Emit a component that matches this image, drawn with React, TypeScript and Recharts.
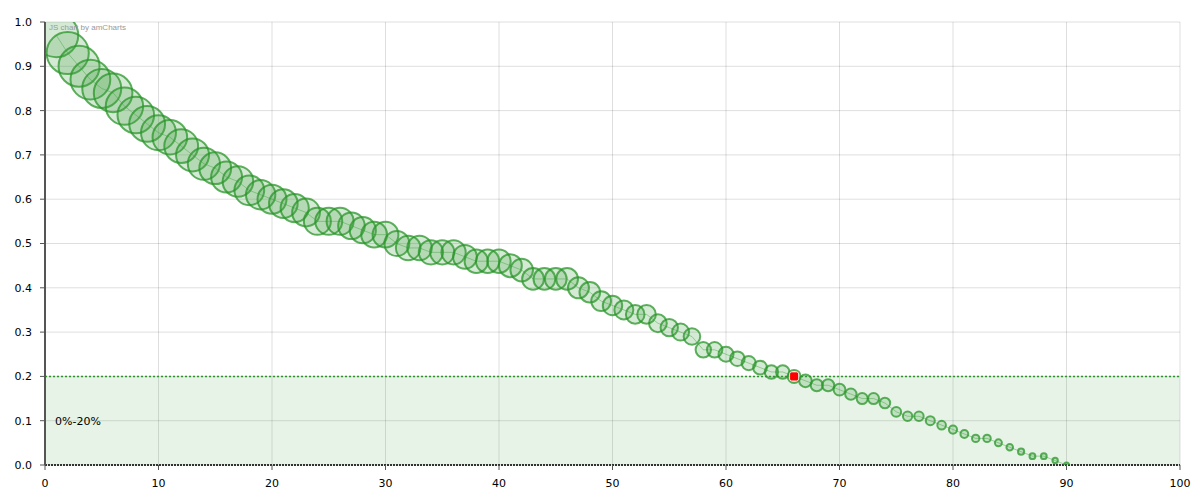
import React from 'react';
import {
  ScatterChart, Scatter, XAxis, YAxis, ZAxis, CartesianGrid,
  ReferenceArea, ReferenceLine,
} from 'recharts';

// x positions of the bubbles (1..90)
const xValues = [
  1, 2, 3, 4, 5, 6, 7, 8, 9, 10, 11, 12, 13, 14, 15, 16, 17, 18, 19, 20,
  21, 22, 23, 24, 25, 26, 27, 28, 29, 30, 31, 32, 33, 34, 35, 36, 37, 38, 39, 40,
  41, 42, 43, 44, 45, 46, 47, 48, 49, 50, 51, 52, 53, 54, 55, 56, 57, 58, 59, 60,
  61, 62, 63, 64, 65, 66, 67, 68, 69, 70, 71, 72, 73, 74, 75, 76, 77, 78, 79, 80,
  81, 82, 83, 84, 85, 86, 87, 88, 89, 90,
];

// y values
const yValues = [
  0.97, 0.93, 0.90, 0.87, 0.85, 0.84, 0.81, 0.79, 0.77, 0.75,
  0.74, 0.72, 0.70, 0.68, 0.67, 0.65, 0.64, 0.62, 0.61, 0.60,
  0.59, 0.58, 0.57, 0.55, 0.55, 0.55, 0.54, 0.53, 0.52, 0.52,
  0.50, 0.49, 0.49, 0.48, 0.48, 0.48, 0.47, 0.46, 0.46, 0.46,
  0.45, 0.44, 0.42, 0.42, 0.42, 0.42, 0.40, 0.39, 0.37, 0.36,
  0.35, 0.34, 0.34, 0.32, 0.31, 0.30, 0.29, 0.26, 0.26, 0.25,
  0.24, 0.23, 0.22, 0.21, 0.21, 0.20, 0.19, 0.18, 0.18, 0.17,
  0.16, 0.15, 0.15, 0.14, 0.12, 0.11, 0.11, 0.10, 0.09, 0.08,
  0.07, 0.06, 0.06, 0.05, 0.04, 0.03, 0.02, 0.02, 0.01, 0.00,
];

// bubble value (same as y in the source chart)
const bubbleValues = yValues;

const highlightX = [66];

const xTicks = [0, 10, 20, 30, 40, 50, 60, 70, 80, 90, 100];
const yTicks = [0, 0.1, 0.2, 0.3, 0.4, 0.5, 0.6, 0.7, 0.8, 0.9, 1.0];

const guideFrom = 0;
const guideTo = 0.2;
const guideLabel = '0%-20%';

const GREEN = '#2a962a';
const FONT = '"DejaVu Sans", Verdana, sans-serif';

const points = xValues.map((x, i) => ({ x, y: yValues[i], z: bubbleValues[i] }));
const highlighted = points.filter((p) => highlightX.includes(p.x));

const Bubble = (props: any) => {
  const { cx, cy, size } = props;
  if (cx == null || cy == null) return null;
  const r = size ?? 3;
  return (
    <circle
      cx={cx}
      cy={cy}
      r={r}
      fill="#3fa03f"
      fillOpacity={0.22}
      stroke={GREEN}
      strokeOpacity={0.75}
      strokeWidth={2}
    />
  );
};

const RedDot = (props: any) => {
  const { cx, cy } = props;
  if (cx == null || cy == null) return null;
  return (
    <rect
      x={cx - 4.5}
      y={cy - 4.5}
      width={9}
      height={9}
      rx={2}
      fill="#ff0000"
      stroke="#fff"
      strokeOpacity={0.8}
      strokeWidth={1}
    />
  );
};

const tickStyle = { fill: '#000', fontSize: 11, fontFamily: FONT };

export default function App() {
  return (
    <div style={{ position: 'absolute', left: 0, top: 0, width: 1200, height: 500, background: '#fff' }}>
      <ScatterChart
        width={1200}
        height={500}
        margin={{ top: 22, right: 20, bottom: 5, left: 0 }}
        style={{ fontFamily: FONT }}
      >
        <ReferenceArea
          y1={guideFrom}
          y2={guideTo}
          fill="#2e9a2e"
          fillOpacity={0.12}
          stroke="none"
          label={{ value: guideLabel, position: 'insideLeft', offset: 10, fill: '#000', fontSize: 11, fontFamily: FONT }}
        />
        <CartesianGrid stroke="#000" strokeOpacity={0.13} />
        <XAxis
          type="number"
          dataKey="x"
          domain={[0, 100]}
          allowDataOverflow
          ticks={xTicks}
          interval={0}
          height={30}
          tickSize={5}
          tickMargin={9}
          tick={tickStyle}
          axisLine={{ stroke: '#333', strokeWidth: 2, strokeDasharray: '2 1' }}
          tickLine={{ stroke: '#555' }}
        />
        <YAxis
          type="number"
          dataKey="y"
          domain={[0, 1]}
          allowDataOverflow
          ticks={yTicks}
          interval={0}
          width={45}
          tickSize={5}
          tickMargin={8}
          tick={tickStyle}
          tickFormatter={(v: number) => v.toFixed(1)}
          axisLine={{ stroke: '#555', strokeWidth: 2 }}
          tickLine={{ stroke: '#555' }}
        />
        <ZAxis type="number" dataKey="z" domain={[0, 1]} range={[2.5, 22.5]} />
        <ReferenceLine y={guideTo} stroke={GREEN} strokeWidth={1.5} strokeDasharray="2 2" />
        <Scatter
          data={points}
          shape={<Bubble />}
          line={{ stroke: GREEN, strokeOpacity: 0.4, strokeWidth: 1 }}
          lineType="joint"
          isAnimationActive={false}
        />
        <Scatter data={highlighted} shape={<RedDot />} isAnimationActive={false} />
      </ScatterChart>
      <div
        style={{
          position: 'absolute',
          left: 49,
          top: 23,
          fontSize: 8,
          color: '#999',
          fontFamily: '"Liberation Sans", Arial, sans-serif',
          pointerEvents: 'none',
        }}
      >
        JS chart by amCharts
      </div>
    </div>
  );
}
